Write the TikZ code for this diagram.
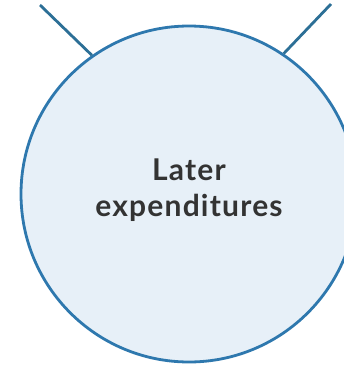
\documentclass[tikz,border=0pt]{standalone}
\usepackage{fontspec}
\setmainfont{Lato}
\definecolor{ringblue}{HTML}{2E78AE}
\definecolor{lineblue}{HTML}{2C6F96}
\definecolor{fillblue}{HTML}{E7F0F8}
\definecolor{textgray}{HTML}{333333}
\tikzset{
  bubble/.style={circle, draw=ringblue, line width=2.8pt, fill=fillblue, minimum size=336pt, inner sep=0pt},
  link/.style={draw=lineblue, line width=2.8pt},
  label/.style={font=\fontsize{30}{36}\selectfont\bfseries\addfontfeature{LetterSpace=4}, text=textgray, align=center, inner sep=0pt}
}
\begin{document}
\begin{tikzpicture}[x=1pt,y=-1pt]
\useasboundingbox (0,0) rectangle (344,365);
\clip (0,0) rectangle (344,365);
\node[bubble] (c) at (189,194) {};
\coordinate (l) at (40,5);
\coordinate (r) at (331,4);
\draw[link] (l) -- (c.125.6);
\draw[link] (r) -- (c.56.5);
\node[label] (t) at (189,190) {Later\\expenditures};
\end{tikzpicture}
\end{document}
